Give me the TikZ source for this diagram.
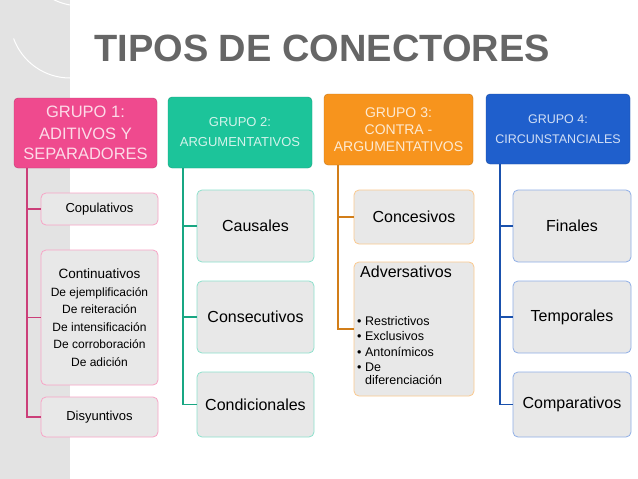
\documentclass[tikz,border=0pt]{standalone}
\usepackage{fontspec}
\setmainfont{Liberation Sans}
\begin{document}
\begin{tikzpicture}[x=1pt,y=-1pt,
  grp/.style={rounded corners=4pt,draw=#1!80!black,fill=#1,text=white!80!#1,align=center,inner sep=0pt},
  kid/.style={rounded corners=5pt,draw=#1!50!white,line width=0.8pt,fill=gray!18,align=center,inner sep=2pt},
  conn/.style={draw=#1!85!black,line width=1.6pt}]
\definecolor{cpink}{HTML}{EF4A8E}
\definecolor{cteal}{HTML}{1CC49A}
\definecolor{corange}{HTML}{F7941D}
\definecolor{cblue}{HTML}{1F5FCC}
\useasboundingbox (0,0) rectangle (638,479);
\fill[white] (0,0) rectangle (638,479);
\fill[gray!22] (0,0) rectangle (70,479);
\draw[white,line width=1pt] (70,5) arc[start angle=100,end angle=190,radius=60];
\draw[white,line width=1pt] (70,78) arc[start angle=90,end angle=160,radius=60];
\node[font=\fontsize{38}{40}\selectfont\bfseries,text=black!60] (title) at (322,48) {TIPOS DE CONECTORES};
% group 1
\node[grp=cpink,minimum width=143,minimum height=70,font=\fontsize{16.5}{20}\selectfont] (g1) at (85.5,133) {GRUPO 1:\\[2pt]ADITIVOS Y\\SEPARADORES};
\node[kid=cpink,minimum width=117,minimum height=32,font=\fontsize{13}{14}\selectfont] (c1) at (99.5,209) {Copulativos};
\node[kid=cpink,minimum width=117,minimum height=135,font=\fontsize{12}{17.5}\selectfont] (c2) at (99.5,317.5) {{\fontsize{13.5}{17.5}\selectfont Continuativos}\\De ejemplificación\\De reiteración\\De intensificación\\De corroboración\\De adición};
\node[kid=cpink,minimum width=117,minimum height=40,font=\fontsize{13}{14}\selectfont] (c3) at (99.5,417) {Disyuntivos};
\coordinate (j1) at (27,168);
\draw[conn=cpink] (j1) |- (c3.west);
\draw[conn=cpink] (j1 |- c1.west) -- (c1.west);
\draw[conn=cpink] (j1 |- c2.west) -- (c2.west);
% group 2
\node[grp=cteal,minimum width=144,minimum height=71,font=\fontsize{13}{20}\selectfont] (g2) at (240,132.5) {GRUPO 2:\\ARGUMENTATIVOS};
\node[kid=cteal,minimum width=117,minimum height=72,font=\fontsize{16}{18}\selectfont] (d1) at (255.5,226) {Causales};
\node[kid=cteal,minimum width=117,minimum height=72,font=\fontsize{16}{18}\selectfont] (d2) at (255.5,317) {Consecutivos};
\node[kid=cteal,minimum width=117,minimum height=65,font=\fontsize{16}{18}\selectfont] (d3) at (255.5,404.5) {Condicionales};
\coordinate (j2) at (183,168);
\draw[conn=cteal] (j2) |- (d3.west);
\draw[conn=cteal] (j2 |- d1.west) -- (d1.west);
\draw[conn=cteal] (j2 |- d2.west) -- (d2.west);
% group 3
\node[grp=corange,minimum width=149,minimum height=71,font=\fontsize{14}{17}\selectfont] (g3) at (398.5,129.5) {GRUPO 3:\\CONTRA -\\ARGUMENTATIVOS};
\node[kid=corange,minimum width=120,minimum height=54,font=\fontsize{16}{18}\selectfont] (e1) at (414,217) {Concesivos};
\node[kid=corange,minimum width=120,minimum height=134,inner sep=0pt] (e2) at (414,329) {};
\node[anchor=north west,font=\fontsize{16}{18}\selectfont,inner sep=0pt] (e2t) at (360,266) {Adversativos};
\node[anchor=north west,align=left,font=\fontsize{12.5}{15.5}\selectfont,inner sep=0pt] (e2l) at (357,316)
  {• Restrictivos\\• Exclusivos\\• Antonímicos\\• De\\[-3pt]\phantom{• }diferenciación};
\coordinate (j3) at (338,165);
\draw[conn=corange] (j3) |- (e2.west);
\draw[conn=corange] (j3 |- e1.west) -- (e1.west);
% group 4
\node[grp=cblue,minimum width=144,minimum height=70,font=\fontsize{12.5}{20}\selectfont] (g4) at (558,129) {GRUPO 4:\\CIRCUNSTANCIALES};
\node[kid=cblue,minimum width=118,minimum height=72,font=\fontsize{16}{18}\selectfont] (f1) at (572,226) {Finales};
\node[kid=cblue,minimum width=118,minimum height=72,font=\fontsize{16}{18}\selectfont] (f2) at (572,317) {Temporales};
\node[kid=cblue,minimum width=118,minimum height=65,font=\fontsize{16}{18}\selectfont] (f3) at (572,404.5) {Comparativos};
\coordinate (j4) at (500,164);
\draw[conn=cblue] (j4) |- (f3.west);
\draw[conn=cblue] (j4 |- f1.west) -- (f1.west);
\draw[conn=cblue] (j4 |- f2.west) -- (f2.west);
\end{tikzpicture}
\end{document}
